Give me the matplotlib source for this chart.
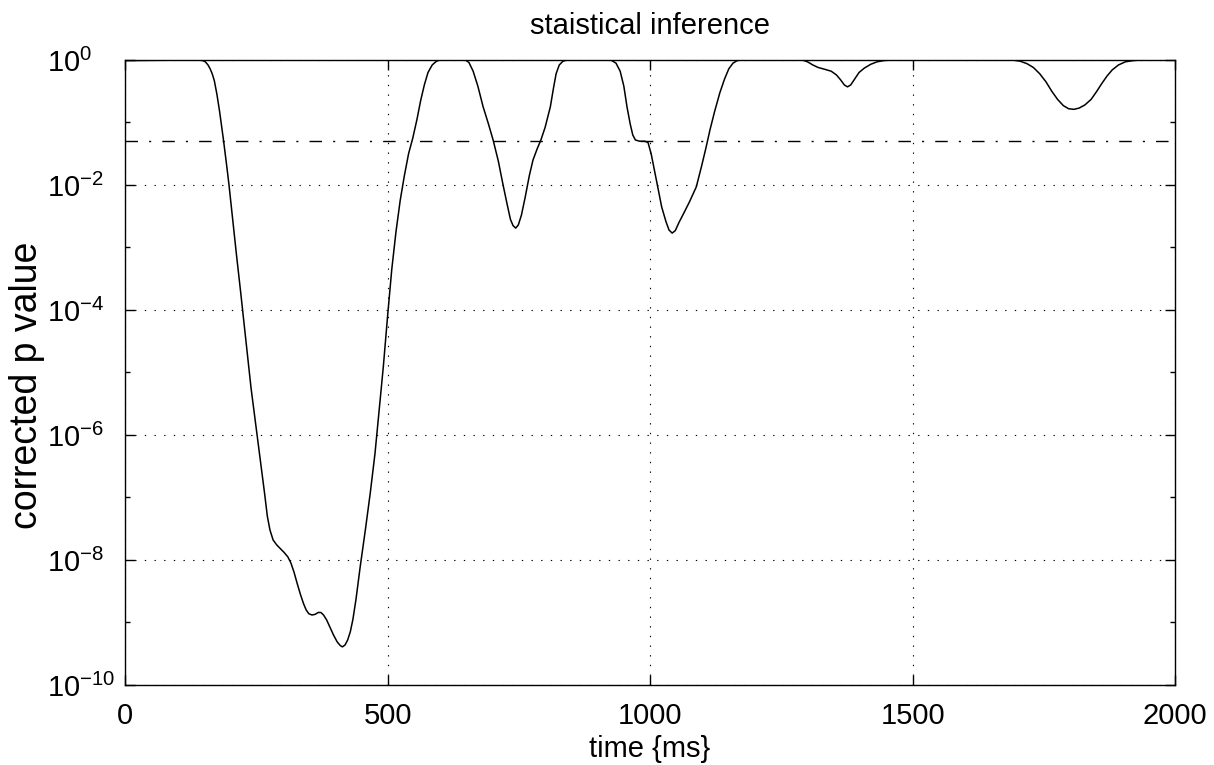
import numpy as np
import matplotlib
matplotlib.use('Agg')
import matplotlib.pyplot as plt
from matplotlib.ticker import FixedLocator, FuncFormatter

# font setup (Helvetica-like)
plt.rcParams['font.family'] = ['Liberation Sans', 'DejaVu Sans']
plt.rcParams['mathtext.fontset'] = 'custom'
plt.rcParams['mathtext.rm'] = 'Liberation Sans'
plt.rcParams['mathtext.default'] = 'regular'

# ---- data ----
time_ms = [0, 140, 148, 153, 158, 162, 166, 170, 175, 180, 187, 193, 198, 205,
           212, 220, 229, 240, 251, 260, 266, 271, 276, 282, 289, 296, 303,
           310, 316, 322, 328, 334, 340, 345, 350, 356, 362, 368, 373, 378,
           384, 390, 397, 404, 410, 414, 419, 424, 429, 434, 440, 448, 458,
           467, 476, 484, 492, 500, 508, 516, 524, 532, 540, 548, 556, 563,
           570, 577, 585, 593, 600, 648, 655, 663, 672, 682, 692, 701, 711,
           720, 728, 734, 739, 744, 749, 755, 762, 770, 777, 785, 792, 800,
           810, 816, 821, 827, 834, 842, 925, 935, 943, 950, 956, 962, 967,
           972, 980, 990, 996, 1002, 1008, 1015, 1022, 1030, 1036, 1042, 1048,
           1055, 1063, 1075, 1088, 1098, 1106, 1114, 1123, 1133, 1142, 1150,
           1158, 1166, 1175, 1290, 1300, 1310, 1320, 1333, 1345, 1355, 1363,
           1370, 1376, 1382, 1390, 1398, 1408, 1420, 1432, 1445, 1460, 1690,
           1705, 1718, 1730, 1742, 1754, 1765, 1776, 1787, 1797, 1807, 1817,
           1828, 1840, 1850, 1860, 1870, 1880, 1892, 1905, 1920, 1935, 2000]
# log10 of the corrected p value
log_p = [-0.01, 0, -0.01, -0.03, -0.08, -0.14, -0.22, -0.33, -0.55, -0.82,
         -1.25, -1.65, -2.0, -2.55, -3.1, -3.7, -4.4, -5.25, -5.97, -6.55,
         -6.95, -7.3, -7.52, -7.68, -7.76, -7.82, -7.88, -7.95, -8.05, -8.2,
         -8.38, -8.55, -8.7, -8.8, -8.86, -8.88, -8.87, -8.84, -8.84, -8.88,
         -8.96, -9.07, -9.2, -9.31, -9.37, -9.39, -9.36, -9.28, -9.15, -8.95,
         -8.62, -8.1, -7.5, -6.93, -6.3, -5.6, -4.9, -4.1, -3.35, -2.75,
         -2.25, -1.85, -1.5, -1.25, -0.95, -0.65, -0.4, -0.2, -0.08, -0.02,
         0, 0, -0.04, -0.18, -0.42, -0.75, -1.02, -1.28, -1.62, -2.0, -2.32,
         -2.55, -2.65, -2.69, -2.64, -2.48, -2.2, -1.85, -1.6, -1.42, -1.28,
         -1.08, -0.75, -0.45, -0.22, -0.08, -0.02, 0, 0, -0.05, -0.18, -0.42,
         -0.75, -1.02, -1.2, -1.28, -1.3, -1.3, -1.32, -1.5, -1.75, -2.05,
         -2.35, -2.58, -2.72, -2.77, -2.73, -2.6, -2.47, -2.27, -2.03, -1.7,
         -1.42, -1.12, -0.82, -0.52, -0.3, -0.14, -0.05, -0.01, 0, 0, -0.03,
         -0.08, -0.12, -0.15, -0.18, -0.24, -0.32, -0.4, -0.43, -0.4, -0.3,
         -0.2, -0.13, -0.07, -0.03, -0.01, 0, 0, -0.02, -0.06, -0.12, -0.22,
         -0.35, -0.5, -0.63, -0.73, -0.78, -0.79, -0.77, -0.72, -0.63, -0.51,
         -0.38, -0.26, -0.16, -0.08, -0.03, -0.01, 0, 0]
alpha = 0.05
x_ticks = [0, 500, 1000, 1500, 2000]
y_major = [1e-10, 1e-8, 1e-6, 1e-4, 1e-2, 1e0]
y_minor = [1e-9, 1e-7, 1e-5, 1e-3, 1e-1]

p_value = 10.0 ** np.array(log_p)

fig = plt.figure(figsize=(12.14, 7.65), dpi=100)
ax = fig.add_axes([0.103, 0.1046, 0.865, 0.817])

ax.semilogy(time_ms, p_value, color='black', lw=1.1)
ax.axhline(alpha, color='black', lw=1.0, linestyle=(0, (9, 8, 1.5, 8)))

ax.set_xlim(0, 2000)
ax.set_ylim(1e-10, 1e0)
ax.xaxis.set_major_locator(FixedLocator(x_ticks))
ax.yaxis.set_major_locator(FixedLocator(y_major))
ax.yaxis.set_minor_locator(FixedLocator(y_minor))
ax.yaxis.set_major_formatter(FuncFormatter(lambda v, pos: r'$10^{%d}$' % round(np.log10(v))))
ax.yaxis.set_minor_formatter(FuncFormatter(lambda v, pos: ''))

ax.grid(True, which='major', color='black', lw=0.8, linestyle=(0, (1.2, 7.5)))

ax.tick_params(which='both', direction='in', top=True, right=True, width=1.0)
ax.tick_params(which='major', length=7)
ax.tick_params(which='minor', length=3.6)
ax.tick_params(axis='x', labelsize=21, pad=12)
ax.tick_params(axis='y', labelsize=21, pad=56)
for lbl in ax.get_yticklabels():
    lbl.set_horizontalalignment('left')

for s in ax.spines.values():
    s.set_linewidth(1.0)

ax.set_title('staistical inference', fontsize=21, pad=19)
ax.set_xlabel('time {ms}', fontsize=21)
ax.xaxis.set_label_coords(0.5, -0.08)
ax.set_ylabel('corrected p value', fontsize=27, va='center')
ax.yaxis.set_label_coords(-0.0933, 0.48)

fig.savefig('out.png', dpi=100)
